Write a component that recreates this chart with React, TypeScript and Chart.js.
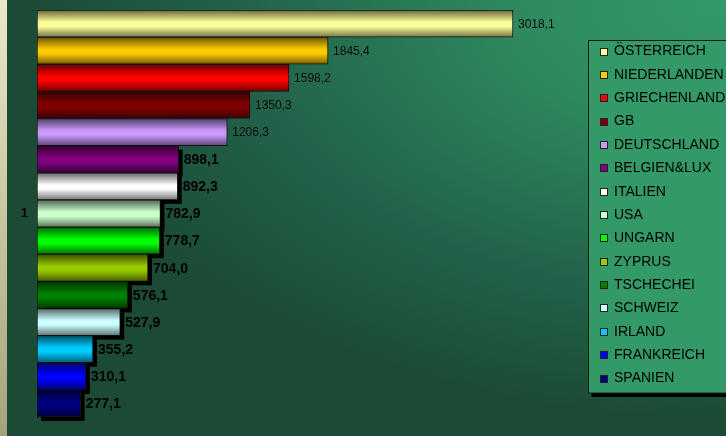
import React, { useEffect, useRef } from "react";
import { Chart, registerables } from "chart.js";

Chart.register(...registerables);

const categories = ["1"];
const countries = [
  "ÖSTERREICH", "NIEDERLANDEN", "GRIECHENLAND", "GB", "DEUTSCHLAND",
  "BELGIEN&LUX", "ITALIEN", "USA", "UNGARN", "ZYPRUS",
  "TSCHECHEI", "SCHWEIZ", "IRLAND", "FRANKREICH", "SPANIEN",
];
const values = [
  3018.1, 1845.4, 1598.2, 1350.3, 1206.3,
  898.1, 892.3, 782.9, 778.7, 704.0,
  576.1, 527.9, 355.2, 310.1, 277.1,
];
const colors = [
  "#FFFF99", "#FFCC00", "#FF0000", "#800000", "#CC99FF",
  "#800080", "#FFFFFF", "#CCFFCC", "#00FF00", "#99CC00",
  "#008000", "#CCFFFF", "#00CCFF", "#0000FF", "#000080",
];
const xMax = 3500;
const boldFrom = 5;

const FONT = "'Liberation Sans', Arial, sans-serif";

function shade(hex: string, f: number): string {
  const n = parseInt(hex.slice(1), 16);
  const r = Math.round(((n >> 16) & 255) * f);
  const g = Math.round(((n >> 8) & 255) * f);
  const b = Math.round((n & 255) * f);
  return `rgb(${r},${g},${b})`;
}

const bgPlugin = {
  id: "bg",
  beforeDraw(chart: any) {
    const { ctx, width, height } = chart;
    ctx.save();
    ctx.fillStyle = "#1B4B35";
    ctx.fillRect(0, 0, width, height);
    ctx.save();
    ctx.translate(width, 0);
    ctx.scale(1, 420 / 700);
    const rg = ctx.createRadialGradient(0, 0, 0, 0, 0, 700);
    rg.addColorStop(0, "#34996B");
    rg.addColorStop(0.3, "#2E8A5E");
    rg.addColorStop(0.7, "#22624A");
    rg.addColorStop(1, "#1B4B35");
    ctx.fillStyle = rg;
    ctx.fillRect(-width, 0, width, height * 700 / 420);
    ctx.restore();
    const lg = ctx.createLinearGradient(0, 0, 0, height);
    lg.addColorStop(0, "#ECE8C6");
    lg.addColorStop(1, "#A6A27C");
    ctx.fillStyle = lg;
    ctx.fillRect(0, 0, 7, height);
    ctx.restore();
  },
};

const shadowPlugin = {
  id: "barShadow",
  beforeDatasetsDraw(chart: any) {
    const { ctx } = chart;
    ctx.save();
    ctx.fillStyle = "#000";
    chart.data.datasets.forEach((_: any, i: number) => {
      if (i < boldFrom) return;
      const el = chart.getDatasetMeta(i).data[0];
      if (!el) return;
      const h = el.height;
      ctx.fillRect(el.base + 4, el.y - h / 2 + 4, el.x - el.base, h);
    });
    ctx.restore();
  },
};

const labelPlugin = {
  id: "valueLabels",
  afterDatasetsDraw(chart: any) {
    const { ctx } = chart;
    ctx.save();
    ctx.textBaseline = "middle";
    ctx.textAlign = "left";
    chart.data.datasets.forEach((ds: any, i: number) => {
      const el = chart.getDatasetMeta(i).data[0];
      if (!el) return;
      const v = ds.data[0] as number;
      const txt = v.toFixed(1).replace(".", ",");
      if (i >= boldFrom) {
        ctx.font = `bold 14px ${FONT}`;
        ctx.fillStyle = "#000";
        ctx.fillText(txt, el.x + 5, el.y + 1);
      } else {
        ctx.font = `12px ${FONT}`;
        ctx.fillStyle = "#0a0a0a";
        ctx.fillText(txt, el.x + 5, el.y + 1);
      }
    });
    ctx.restore();
  },
};

const legendPlugin = {
  id: "customLegend",
  afterDraw(chart: any) {
    const { ctx } = chart;
    const bx = 588.5, by = 40.5, bw = 145, bh = 352.5;
    ctx.save();
    ctx.fillStyle = "#000";
    ctx.fillRect(bx + 3, by + 4, bw, bh);
    ctx.fillStyle = "#339966";
    ctx.fillRect(bx, by, bw, bh);
    ctx.strokeStyle = "#1a1a1a";
    ctx.lineWidth = 1;
    ctx.strokeRect(bx, by, bw, bh);
    ctx.font = `14px ${FONT}`;
    ctx.textBaseline = "middle";
    ctx.textAlign = "left";
    chart.data.datasets.forEach((ds: any, i: number) => {
      const y = 51.5 + i * 23.36;
      const my = Math.round(y) - 4;
      ctx.fillStyle = "#222";
      ctx.fillRect(600, my, 8, 8);
      ctx.fillStyle = colors[i];
      ctx.fillRect(601, my + 1, 6, 6);
      ctx.fillStyle = "#000";
      ctx.fillText(ds.label, 614, y);
    });
    ctx.restore();
  },
};

export default function App() {
  const ref = useRef<HTMLCanvasElement | null>(null);
  useEffect(() => {
    if (!ref.current) return;
    const n = countries.length;
    const chart = new Chart(ref.current, {
      type: "bar",
      data: {
        labels: categories,
        datasets: countries.map((c, i) => ({
          label: c,
          data: [values[i]],
          borderColor: "#111",
          borderWidth: 1,
          borderSkipped: false,
          backgroundColor: (ctx: any) => {
            const area = ctx.chart.chartArea;
            if (!area) return colors[i];
            const h = area.height / n;
            const top = area.top + ctx.datasetIndex * h;
            const g = ctx.chart.ctx.createLinearGradient(0, top, 0, top + h);
            g.addColorStop(0, shade(colors[i], 0.4));
            g.addColorStop(0.15, shade(colors[i], 0.6));
            g.addColorStop(0.45, colors[i]);
            g.addColorStop(0.6, colors[i]);
            g.addColorStop(1, shade(colors[i], 0.45));
            return g;
          },
        })),
      },
      options: {
        indexAxis: "y",
        responsive: false,
        animation: false,
        layout: { padding: { left: 21, top: 10, bottom: 19, right: 137 } },
        datasets: { bar: { categoryPercentage: 1, barPercentage: 1 } },
        scales: {
          x: { display: false, min: 0, max: xMax },
          y: {
            grid: { display: false, drawTicks: false },
            border: { display: true, color: "#000", width: 1 },
            ticks: {
              color: "#000",
              font: { family: FONT, size: 12, weight: "bold" },
              padding: 0,
              crossAlign: "far",
            },
            afterFit: (s: any) => { s.width = 16; },
          },
        },
        plugins: { legend: { display: false }, tooltip: { enabled: false } },
      } as any,
      plugins: [bgPlugin, shadowPlugin, labelPlugin, legendPlugin],
    });
    return () => chart.destroy();
  }, []);
  return (
    <div style={{ position: "fixed", left: 0, top: 0, width: 726, height: 436 }}>
      <canvas ref={ref} width={726} height={436} style={{ display: "block", width: 726, height: 436 }} />
    </div>
  );
}
